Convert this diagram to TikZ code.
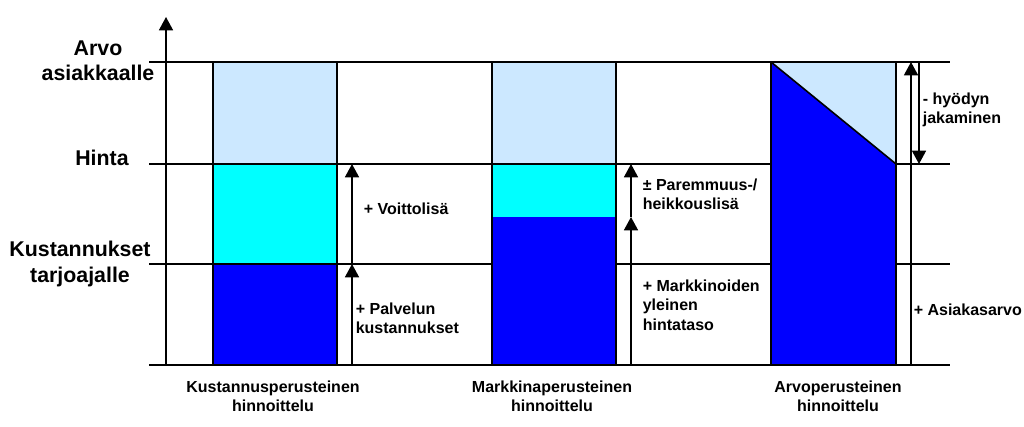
\documentclass[tikz,border=0pt]{standalone}
\usepackage{fontspec}
\setmainfont{Liberation Sans}
\usetikzlibrary{arrows.meta}
\definecolor{paleblue}{HTML}{CCE8FF}
\definecolor{brightcyan}{HTML}{00FFFF}
\definecolor{deepblue}{HTML}{0000FF}

\begin{document}
\begin{tikzpicture}[x=0.75pt,y=-0.75pt,line width=1.2pt,
	tip/.style={-{Triangle[width=10.5pt,length=10pt]}},
	biglabel/.style={font=\fontsize{16}{19}\selectfont\bfseries,align=center,inner sep=0pt},
	sidelabel/.style={font=\fontsize{12}{14.5}\selectfont\bfseries,align=left,anchor=west,inner sep=0pt},
	barlabel/.style={font=\fontsize{12}{14.5}\selectfont\bfseries,align=center,inner sep=0pt}]

\def\xl{149}
\def\xr{950}
\def\yv{62}
\def\yh{164}
\def\yk{264}
\def\yb{365}

\path [use as bounding box] (0,0) rectangle (1024,427);

% Levels
\foreach \y in {\yv,\yh,\yk,\yb}
	\draw (\xl,\y) -- (\xr,\y);

% Bar 1
\filldraw [fill=paleblue] (213,\yv) rectangle (337,\yh);
\filldraw [fill=brightcyan] (213,\yh) rectangle (337,\yk);
\filldraw [fill=deepblue] (213,\yk) rectangle (337,\yb);

% Bar 2
\fill [paleblue] (492,\yv) rectangle (616,\yh);
\fill [brightcyan] (492,\yh) rectangle (616,217);
\fill [deepblue] (492,217) rectangle (616,\yb);
\draw (492,\yv) rectangle (616,\yb)
	(492,\yh) -- (616,\yh);

% Bar 3
\fill [paleblue] (771,\yv) -- (896,\yv) -- (896,\yh) -- cycle;
\fill [deepblue] (771,\yv) -- (896,\yh) -- (896,\yb) -- (771,\yb) -- cycle;
\draw (771,\yv) rectangle (896,\yb)
	(771,\yv) -- (896,\yh);

% Arrow points
\coordinate (axisbot) at (166,\yb);
\coordinate (axistop) at (166,17);
\coordinate (costbot) at (352,\yb);
\coordinate (costmid) at (352,\yk);
\coordinate (costtop) at (352,\yh);
\coordinate (marketbot) at (631,\yb);
\coordinate (marketmid) at (631,217);
\coordinate (markettop) at (631,\yh);
\coordinate (valuebot) at (911,\yb);
\coordinate (valuetop) at (911,\yv);
\coordinate (sharetop) at (919,\yv);
\coordinate (sharebot) at (919,\yh);

% Arrows
\draw [tip] (axisbot) -- (axistop);
\draw [tip] (costbot) -- (costmid);
\draw [tip] (costmid) -- (costtop);
\draw [tip] (marketbot) -- (marketmid);
\draw [tip] (marketmid) -- (markettop);
\draw [tip] (valuebot) -- (valuetop);
\draw [tip] (sharetop) -- (sharebot);

% Axis labels
\node [biglabel] (arvo) at (98,61) {Arvo\\asiakkaalle};
\node [biglabel] (hinta) at (102,158) {Hinta};
\node [biglabel] (kust) at (80,264) {Kustannukset\\tarjoajalle};

% Side labels
\node [sidelabel] (voitto) at (363,209) {+ Voittolisä};
\node [sidelabel] (palvelu) at (355,318.5) {+ Palvelun\\kustannukset};
\node [sidelabel] (paremmuus) at (642,194) {± Paremmuus-/\\heikkouslisä};
\node [sidelabel] (markkina) at (642,305) {+ Markkinoiden\\yleinen\\hintataso};
\node [sidelabel] (hyoty) at (922,110) {- hyödyn\\jakaminen};
\node [sidelabel] (asiakas) at (913,310) {+ Asiakasarvo};

% Bar labels
\node [barlabel] (kustlabel) at (273,396.5) {Kustannusperusteinen\\hinnoittelu};
\node [barlabel] (markkinalabel) at (552,396.5) {Markkinaperusteinen\\hinnoittelu};
\node [barlabel] (arvolabel) at (838,396.5) {Arvoperusteinen\\hinnoittelu};

\end{tikzpicture}
\end{document}
